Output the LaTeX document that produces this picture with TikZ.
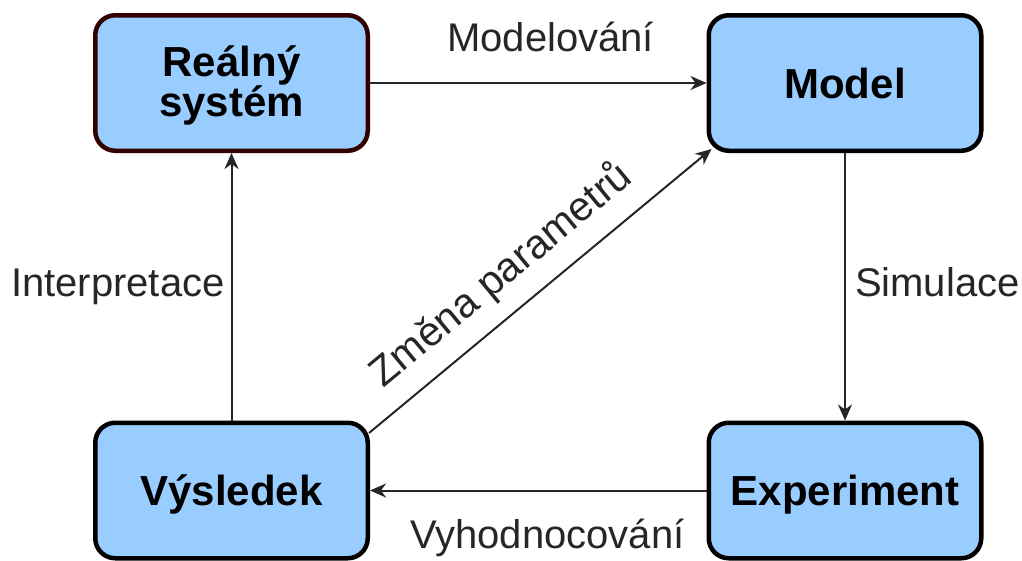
\documentclass[tikz,border=0pt]{standalone}
\usepackage{fontspec}
\setmainfont{Liberation Sans}
\usetikzlibrary{arrows.meta,calc}
\definecolor{boxfill}{HTML}{99CCFF}
\definecolor{maroonline}{HTML}{330000}

\begin{document}
\begin{tikzpicture}[x=1pt,y=-1pt,
  block/.style={draw=black, line width=4.5pt, fill=boxfill, rounded corners=20pt,
    minimum width=272.5pt, minimum height=135.5pt, inner sep=0pt,
    font=\bfseries\fontsize{42}{40}\selectfont, text height=30pt, text depth=0pt},
  flow/.style={draw=black!85, line width=2pt,
    -{Stealth[length=16pt,width=14pt,inset=5pt]}},
  lbl/.style={font=\fontsize{40}{48}\selectfont, text=black!85, inner sep=0pt}]

\useasboundingbox (0,0) rectangle (1022,560);

% the four stages of the modelling cycle
\node[block, draw=maroonline, align=center, text height=71pt, text depth=4pt] (real) at (231.5,83) {Reálný\\systém};
\node[block] (model) at (845,83) {Model};
\node[block] (vys) at (231.5,490.5) {Výsledek};
\node[block] (exp) at (845,490.5) {Experiment};

% transitions between the stages
\draw[flow] (real) -- node[lbl, pos=0.537, anchor=base, yshift=32pt] {Modelování} (model);
\draw[flow] (model) -- node[lbl, pos=0.538, anchor=base west, xshift=9pt] {Simulace} (exp);
\draw[flow] (exp) -- node[lbl, pos=0.473, anchor=base, yshift=-57.5pt] {Vyhodnocování} (vys);
\draw[flow] (vys) -- node[lbl, pos=0.462, anchor=base east, xshift=-6pt] {Interpretace} (real);
\draw[flow] ($(vys.north east)+(-1,12.5)$) --
  node[lbl, sloped, pos=0.455, anchor=south, inner ysep=24pt, text depth=0pt,
       font=\fontsize{41}{48}\selectfont] {Změna parametrů}
  ($(model.south west)+(5,-4)$);
\end{tikzpicture}
\end{document}
